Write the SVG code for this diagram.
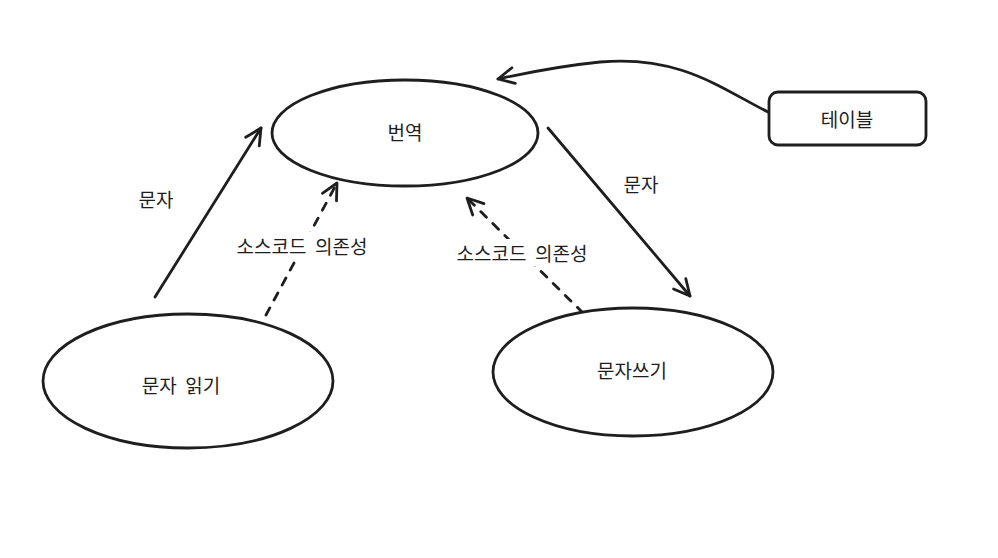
<svg xmlns="http://www.w3.org/2000/svg" width="998" height="558" viewBox="0 0 998 558">
<defs>
<style>
.n{fill:#fff;stroke:#1e1e1e;stroke-width:2.8}
.t{font-family:"Noto Sans CJK KR",sans-serif;font-size:19px;fill:#1e1e1e;text-anchor:middle;dominant-baseline:central}
.c{fill:none;stroke:#1e1e1e;stroke-width:2.8;stroke-linecap:round}
.d{stroke-dasharray:8 9}
.bg{fill:#fff}
</style>
<marker id="ah" viewBox="0 0 20 20" refX="18" refY="10" markerWidth="20" markerHeight="20" markerUnits="userSpaceOnUse" orient="auto">
<path d="M2,2 L18,10 L2,18" fill="none" stroke="#1e1e1e" stroke-width="2.8" stroke-linecap="round" stroke-linejoin="round"/>
</marker>
</defs>
<rect width="998" height="558" fill="#fff"/>
<g id="edges">
<path class="c" d="M155,297 L261,128" marker-end="url(#ah)"/>
<path class="c d" d="M266,315 L337,183" marker-end="url(#ah)"/>
<path class="c" d="M548,128 L690,296" marker-end="url(#ah)"/>
<path class="c d" d="M583,313 L467,198" marker-end="url(#ah)"/>
<path class="c" d="M768,112 C720,88 680,55 600,62 C560,66 530,72 498,79" marker-end="url(#ah)"/>
<rect class="bg" x="232" y="232" width="142" height="27"/>
<rect class="bg" x="452" y="239" width="142" height="27"/>
<text class="t" x="302" y="245" xml:space="preserve">소스코드  의존성</text>
<text class="t" x="522" y="252" xml:space="preserve">소스코드  의존성</text>
<text class="t" x="156" y="198">문자</text>
<text class="t" x="641" y="183">문자</text>
</g>
<g id="node-translate">
<ellipse class="n" cx="405" cy="133" rx="133" ry="53"/>
<text class="t" x="405" y="131">번역</text>
</g>
<g id="node-table">
<rect class="n" x="769" y="92" width="157" height="53" rx="9"/>
<text class="t" x="847" y="118">테이블</text>
</g>
<g id="node-read">
<ellipse class="n" cx="188" cy="381" rx="145" ry="67"/>
<text class="t" x="181" y="384" xml:space="preserve">문자  읽기</text>
</g>
<g id="node-write">
<ellipse class="n" cx="633" cy="372" rx="140" ry="64"/>
<text class="t" x="632" y="369">문자쓰기</text>
</g>
</svg>
